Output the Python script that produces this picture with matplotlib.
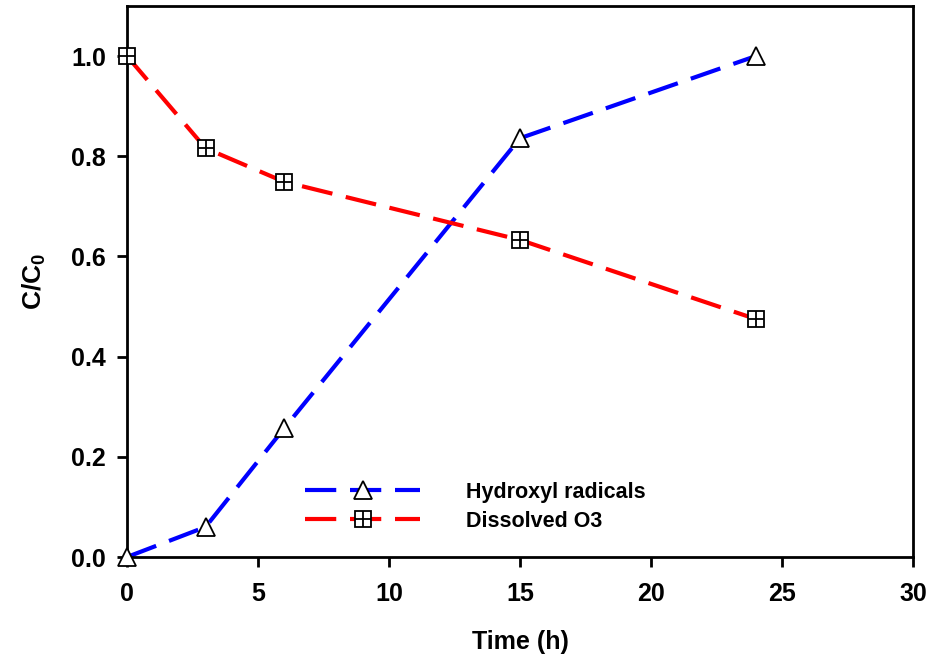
import matplotlib
matplotlib.use("Agg")
import matplotlib.pyplot as plt
from matplotlib.lines import Line2D
from matplotlib.legend_handler import HandlerTuple

time_h = [0, 3, 6, 15, 24]
hydroxyl = [0.0, 0.06, 0.257, 0.836, 1.0]
dissolved_o3 = [1.0, 0.816, 0.749, 0.633, 0.475]
x_ticks = [0, 5, 10, 15, 20, 25, 30]
y_ticks = [0.0, 0.2, 0.4, 0.6, 0.8, 1.0]

plt.rcParams['font.family'] = ['Liberation Sans', 'DejaVu Sans']
plt.rcParams['font.weight'] = 'bold'
plt.rcParams['mathtext.fontset'] = 'custom'
plt.rcParams['mathtext.rm'] = 'Liberation Sans:bold'
plt.rcParams['mathtext.bf'] = 'Liberation Sans:bold'
plt.rcParams['mathtext.it'] = 'Liberation Sans:bold'

fig = plt.figure(figsize=(9.35, 6.57), dpi=100)
ax = fig.add_axes([0.1358, 0.1522, 0.8407, 0.8387])

dash = (7.5, 3.3)
lw = 3.0
ms_tri = 13
ms_sq = 11
ax.plot(time_h, hydroxyl, color='#0000ff', lw=lw, dashes=dash, zorder=2)
ax.plot(time_h, hydroxyl, ls='none', marker='^', ms=ms_tri, mfc='white',
        mec='black', mew=1.3, zorder=3, clip_on=False)
ax.plot(time_h, dissolved_o3, color='#ff0000', lw=lw, dashes=dash, zorder=2)
ax.plot(time_h, dissolved_o3, ls='none', marker='s', ms=ms_sq, mfc='white',
        mec='black', mew=1.3, zorder=3, clip_on=False)
ax.plot(time_h, dissolved_o3, ls='none', marker='+', ms=ms_sq,
        mec='black', mew=1.3, zorder=4, clip_on=False)

ax.set_xlim(0, 30)
ax.set_ylim(0, 1.1)
ax.set_xticks(x_ticks)
ax.set_yticks(y_ticks)
ax.set_xticklabels([str(v) for v in x_ticks])
ax.set_yticklabels([f"{v:.1f}" for v in y_ticks])
ax.tick_params(axis='both', direction='out', length=7, width=2, labelsize=18,
               pad=8, top=False, right=False)
ax.tick_params(axis='x', pad=11)
for s in ax.spines.values():
    s.set_linewidth(2)

ax.set_xlabel('Time (h)', fontsize=18, fontweight='bold', labelpad=17)
ax.set_ylabel(r'C/C$_\mathbf{0}$', fontsize=19, fontweight='bold', labelpad=17)

h1 = Line2D([], [], color='#0000ff', lw=lw, dashes=dash, marker='^', ms=ms_tri,
            mfc='white', mec='black', mew=1.3)
h2 = (Line2D([], [], color='#ff0000', lw=lw, dashes=dash, marker='s', ms=ms_sq,
             mfc='white', mec='black', mew=1.3),
      Line2D([], [], ls='none', marker='+', ms=ms_sq, mec='black', mew=1.3))
leg = ax.legend([h1, h2], ['Hydroxyl radicals', 'Dissolved O3'],
                handler_map={tuple: HandlerTuple(ndivide=1, pad=0)},
                loc='lower left', bbox_to_anchor=(0.202, 0.011), frameon=False,
                fontsize=15.5, handlelength=5.35, handletextpad=2.1,
                labelspacing=0.35, numpoints=1)
for t in leg.get_texts():
    t.set_fontweight('bold')

fig.savefig('out.png', dpi=100)
